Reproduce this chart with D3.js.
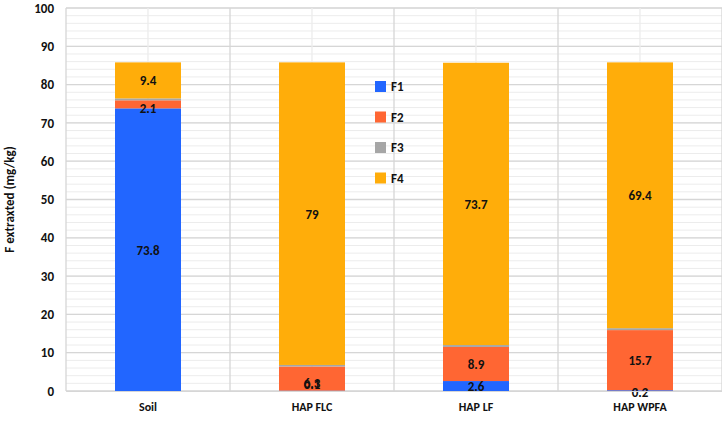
<!DOCTYPE html>
<html>
<head>
<meta charset="utf-8">
<script src="https://d3js.org/d3.v7.min.js"></script>
<style>body{margin:0;background:#fff;font-family:Calibri,Carlito,"Liberation Sans",Arial,sans-serif;}</style>
</head>
<body>
<div id="chart"></div>
<script>
var categories = ["Soil", "HAP FLC", "HAP LF", "HAP WPFA"];
var seriesNames = ["F1", "F2", "F3", "F4"];
var f1 = [73.8, 0.1, 2.6, 0.2];
var f2 = [2.1, 6.3, 8.9, 15.7];
var f3 = [0.5, 0.4, 0.5, 0.5];
var f4 = [9.4, 79, 73.7, 69.4];
var colors = ["#2266ff", "#ff6633", "#a6a6a6", "#ffad0a"];

var margin = {top: 8, right: 0, bottom: 33, left: 66},
  width = 722 - margin.left - margin.right,
  height = 424 - margin.top - margin.bottom;

var svg = d3.select("#chart").append("svg")
  .attr("width", 722).attr("height", 424)
  .append("g")
  .attr("transform", "translate(" + margin.left + "," + margin.top + ")");

var data = categories.map(function (c, i) {
  return {cat: c, F1: f1[i], F2: f2[i], F3: f3[i], F4: f4[i]};
});

var x = d3.scaleBand().domain(categories).range([0, width]);
var y = d3.scaleLinear().domain([0, 100]).range([height, 0]);

// minor grid
svg.selectAll(".minor").data(d3.range(0, 101, 2)).enter().append("line")
  .attr("x1", 0).attr("x2", width)
  .attr("y1", d => y(d)).attr("y2", d => y(d))
  .attr("stroke", "#ececec").attr("stroke-width", 1);
// major grid
svg.selectAll(".major").data(d3.range(0, 101, 10)).enter().append("line")
  .attr("x1", 0).attr("x2", width)
  .attr("y1", d => y(d)).attr("y2", d => y(d))
  .attr("stroke", "#d6d6d6").attr("stroke-width", 1.3);
// vertical grid at boundaries and centers
var vlines = [];
categories.forEach(function (c) { vlines.push(x(c)); vlines.push(x(c) + x.bandwidth() / 2); });
vlines.push(width);
svg.selectAll(".vg").data(vlines).enter().append("line")
  .attr("x1", d => d).attr("x2", d => d).attr("y1", 0).attr("y2", height)
  .attr("stroke", (d, i) => i % 2 === 0 ? "#d6d6d6" : "#ececec").attr("stroke-width", 1.3);

var stack = d3.stack().keys(seriesNames)(data);
var barW = 66;
svg.selectAll(".layer").data(stack).enter().append("g")
  .attr("fill", (d, i) => colors[i])
  .selectAll("rect").data(d => d).enter().append("rect")
  .attr("x", d => x(d.data.cat) + x.bandwidth() / 2 - barW / 2)
  .attr("width", barW)
  .attr("y", d => y(d[1]))
  .attr("height", d => y(d[0]) - y(d[1]));

// labels
var labels = [
  {s: 0, i: 0, v: "73.8"}, {s: 1, i: 0, v: "2.1", dy: 4}, {s: 3, i: 0, v: "9.4"},
  {s: 0, i: 1, v: "0.1", dy: -2}, {s: 1, i: 1, v: "6.3", dy: 4}, {s: 3, i: 1, v: "79"},
  {s: 0, i: 2, v: "2.6"}, {s: 1, i: 2, v: "8.9"}, {s: 3, i: 2, v: "73.7"},
  {s: 0, i: 3, v: "0.2", dy: -6}, {s: 1, i: 3, v: "15.7"}, {s: 3, i: 3, v: "69.4"}
];
svg.selectAll(".lbl").data(labels).enter().append("text")
  .attr("x", d => x(categories[d.i]) + x.bandwidth() / 2)
  .attr("y", function (d) {
    var seg = stack[d.s][d.i];
    var yy = y((seg[0] + seg[1]) / 2) + 5 + (d.dy || 0);
    if (d.s === 0 && d.i === 1) yy = y(0) - 2;
    if (d.s === 0 && d.i === 3) yy = y(0) + 6;
    return yy;
  })
  .attr("text-anchor", "middle").attr("font-size", "13px").attr("font-weight", "bold")
  .attr("fill", "#111").text(d => d.v);

// axes
var yAxis = svg.append("g").call(d3.axisLeft(y).ticks(10).tickSize(0).tickPadding(12));
yAxis.select(".domain").remove();
yAxis.selectAll("text").attr("font-size", "13px").attr("font-weight", "bold").attr("fill", "#111")
  .style("font-family", "Calibri,Carlito,'Liberation Sans',Arial,sans-serif");

var xAxis = svg.append("g").attr("transform", "translate(0," + height + ")")
  .call(d3.axisBottom(x).tickSize(0).tickPadding(11));
xAxis.select(".domain").attr("stroke", "#d6d6d6");
xAxis.selectAll("text").attr("font-size", "12px").attr("font-weight", "bold").attr("fill", "#111")
  .style("font-family", "Calibri,Carlito,'Liberation Sans',Arial,sans-serif");

svg.append("text")
  .attr("transform", "translate(-52," + (height / 2) + ") rotate(-90)")
  .attr("text-anchor", "middle").attr("font-size", "13px").attr("font-weight", "bold")
  .attr("fill", "#111").text("F extraxted (mg/kg)");

// legend
var legend = svg.selectAll(".leg").data(seriesNames).enter().append("g")
  .attr("transform", (d, i) => "translate(309," + (73 + i * 30.5) + ")");
legend.append("rect").attr("width", 11).attr("height", 11).attr("fill", (d, i) => colors[i]);
legend.append("text").attr("x", 16).attr("y", 10).attr("font-size", "13px").attr("font-weight", "bold")
  .attr("fill", "#111").text(d => d);
</script>
</body>
</html>
